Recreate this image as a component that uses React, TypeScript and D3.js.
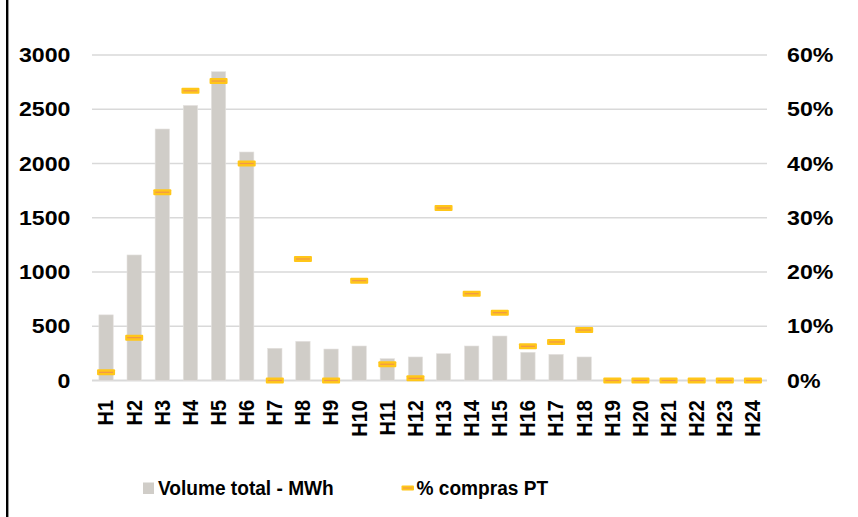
import React from "react";
import * as d3 from "d3";

const categories = ["H1","H2","H3","H4","H5","H6","H7","H8","H9","H10","H11","H12","H13","H14","H15","H16","H17","H18","H19","H20","H21","H22","H23","H24"];
const volumeMWh = [605, 1157, 2318, 2535, 2846, 2106, 297, 361, 290, 318, 201, 217, 247, 318, 410, 260, 241, 217, 0, 0, 0, 0, 0, 0];
const pctComprasPT = [1.5, 7.9, 34.7, 53.4, 55.2, 40.0, 0, 22.4, 0, 18.4, 3.0, 0.4, 31.8, 16.0, 12.5, 6.3, 7.1, 9.3, 0, 0, 0, 0, 0, 0];
const leftTicks = [0, 500, 1000, 1500, 2000, 2500, 3000];
const rightTicks = [0, 10, 20, 30, 40, 50, 60];
const legendLabels = ["Volume total - MWh", "% compras PT"];

const W = 858, H = 517;
const FONT = "'Liberation Sans', Arial, sans-serif";
const BAR = "#D0CDC8";
const GRID = "#D9D9D9";
const SX = 1.13;

export default function App() {
  const x = d3.scaleBand<string>().domain(categories).range([92, 767]).paddingInner(0.49).paddingOuter(0.245);
  const yL = d3.scaleLinear().domain([0, 3000]).range([380.5, 55]);
  const yR = d3.scaleLinear().domain([0, 60]).range([380.5, 55]);
  const cx = (c: string) => (x(c) ?? 0) + x.bandwidth() / 2;

  return (
    <svg width={W} height={H} style={{ position: "fixed", left: 0, top: 0, background: "#fff" }}>
      <rect x={0} y={0} width={W} height={H} fill="#fff" />
      <line x1={7.2} x2={7.2} y1={0} y2={H} stroke="#000" strokeWidth={2.4} />

      {leftTicks.map((t) => (
        <line key={"g" + t} x1={92} x2={767} y1={yL(t)} y2={yL(t)} stroke={GRID} strokeWidth={t === 0 ? 1.8 : 1.3} />
      ))}

      {leftTicks.map((t) => (
        <g key={"l" + t} transform={`translate(70.5,${yL(t)}) scale(${SX},1)`}>
          <text textAnchor="end" dominantBaseline="central" fontFamily={FONT} fontWeight="bold" fontSize={20.5} fill="#000">{t}</text>
        </g>
      ))}
      {rightTicks.map((t) => (
        <g key={"r" + t} transform={`translate(787,${yR(t)}) scale(${SX},1)`}>
          <text textAnchor="start" dominantBaseline="central" fontFamily={FONT} fontWeight="bold" fontSize={20.5} fill="#000">{t + "%"}</text>
        </g>
      ))}

      {categories.map((c, i) => (
        volumeMWh[i] > 0 ? (
          <rect key={"b" + c} x={x(c)} y={yL(volumeMWh[i])} width={x.bandwidth()} height={yL(0) - yL(volumeMWh[i])} fill={BAR} stroke="#E4E2DF" strokeWidth={0.6} />
        ) : null
      ))}

      {categories.map((c, i) => (
        <g key={"m" + c}>
          <rect x={cx(c) - 9} y={yR(pctComprasPT[i]) - 3} width={18} height={6} rx={1} fill="#FFC619" />
          <line x1={cx(c) - 7} x2={cx(c) + 7} y1={yR(pctComprasPT[i])} y2={yR(pctComprasPT[i])} stroke="#F0964A" strokeWidth={1.2} />
        </g>
      ))}

      {categories.map((c) => (
        <g key={"x" + c} transform={`translate(${cx(c)},400) scale(${SX},1) rotate(-90)`}>
          <text textAnchor="end" dominantBaseline="central" fontFamily={FONT} fontWeight="bold" fontSize={20} fill="#000">{c}</text>
        </g>
      ))}

      <rect x={143} y={482.5} width={11} height={11.5} fill={BAR} />
      <g transform={`translate(158,495) scale(0.91,1)`}>
        <text fontFamily={FONT} fontWeight="bold" fontSize={21} fill="#000">{legendLabels[0]}</text>
      </g>
      <rect x={401.5} y={485.5} width={12.5} height={5} rx={1} fill="#FFC619" />
      <line x1={403} x2={412.5} y1={488} y2={488} stroke="#F0964A" strokeWidth={1} />
      <g transform={`translate(416.5,495) scale(0.91,1)`}>
        <text fontFamily={FONT} fontWeight="bold" fontSize={21} fill="#000">{legendLabels[1]}</text>
      </g>
    </svg>
  );
}
